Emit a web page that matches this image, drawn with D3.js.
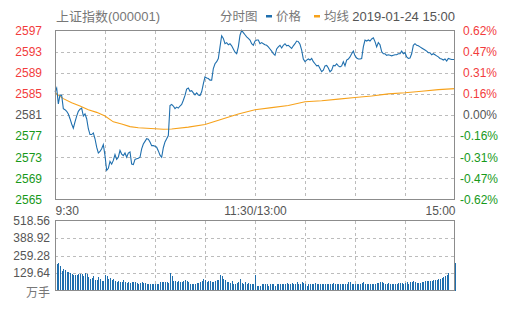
<!DOCTYPE html>
<html>
<head>
<meta charset="utf-8">
<script src="https://cdn.jsdelivr.net/npm/d3@7"></script>
<style>
  body { margin: 0; background: #fff; }
  svg { display: block; font-family: Arial, "Liberation Sans", "Noto Sans CJK SC", sans-serif; }
</style>
</head>
<body>
<svg id="chart"></svg>
<script>
// price ticks (left) and percentage labels (right)
const priceTicks = [2597, 2593, 2589, 2585, 2581, 2577, 2573, 2569, 2565];
const pctLabels = ['0.62%', '0.47%', '0.31%', '0.16%', '0.00%', '-0.16%', '-0.31%', '-0.47%', '-0.62%'];
const preClose = 2581;
const timeTicks = [0, 120, 240];
const timeLabels = ['9:30', '11:30/13:00', '15:00'];
const gridMinutes = [30, 60, 90, 120, 150, 180, 210];
const volTicks = [518.56, 388.92, 259.28, 129.64];
const volLabels = ['518.56', '388.92', '259.28', '129.64'];

// one price per minute, 9:30 .. 11:30 then 13:00 .. 15:00
const prices = [
  2585.4, 2586.1, 2583.1, 2584.8, 2584.7, 2582.2, 2582.0, 2581.7, 2581.2, 2580.3,
  2579.3, 2578.5, 2579.7, 2580.8, 2581.7, 2582.1, 2582.3, 2580.8, 2581.2, 2580.3,
  2578.4, 2577.3, 2577.3, 2577.6, 2576.5, 2574.9, 2573.8, 2574.1, 2574.6, 2575.4,
  2573.3, 2570.5, 2570.9, 2572.2, 2571.7, 2572.4, 2573.5, 2572.6, 2573.0, 2574.3,
  2573.6, 2573.3, 2573.8, 2573.0, 2573.8, 2574.0, 2571.7, 2571.6, 2572.6, 2572.7,
  2572.8, 2573.0, 2574.6, 2575.5, 2576.0, 2576.5, 2576.4, 2575.9, 2575.2, 2575.2,
  2575.1, 2574.9, 2574.2, 2573.4, 2573.0, 2574.8, 2575.9, 2576.5, 2577.1, 2582.8,
  2583.0, 2582.7, 2582.2, 2582.5, 2582.3, 2582.7, 2583.0, 2583.8, 2584.7, 2585.9,
  2586.1, 2585.5, 2585.6, 2585.2, 2584.8, 2585.2, 2584.8, 2584.7, 2585.4, 2586.9,
  2588.2, 2588.0, 2587.9, 2587.6, 2587.6, 2589.8, 2590.7, 2591.1, 2591.7, 2593.9,
  2596.0, 2595.5, 2594.5, 2594.7, 2594.3, 2594.5, 2594.1, 2593.5, 2592.9, 2592.6,
  2593.9, 2596.1, 2597.0, 2596.6, 2596.2, 2595.8, 2595.5, 2595.2, 2594.5, 2594.2,
  2595.0, 2595.2, 2595.2, 2594.5, 2594.7, 2594.5, 2594.3, 2594.2, 2593.9, 2593.5,
  2593.1, 2592.6, 2592.3, 2593.5, 2593.9, 2594.2, 2593.7, 2594.2, 2594.5, 2594.1,
  2594.2, 2593.9, 2593.6, 2594.1, 2594.5, 2595.0, 2594.9, 2594.4, 2593.3, 2591.6,
  2591.1, 2591.4, 2591.6, 2591.4, 2591.7, 2591.1, 2590.7, 2590.3, 2590.4, 2589.8,
  2589.2, 2589.5, 2590.3, 2590.4, 2589.9, 2589.2, 2589.5, 2590.4, 2590.3, 2590.7,
  2590.3, 2590.1, 2590.3, 2591.1, 2590.3, 2591.4, 2591.6, 2592.0, 2592.6, 2593.1,
  2592.2, 2591.8, 2591.6, 2591.6, 2591.7, 2593.9, 2595.2, 2595.0, 2595.2, 2595.0,
  2595.4, 2595.6, 2594.9, 2593.9, 2594.7, 2594.3, 2593.0, 2592.6, 2592.6, 2592.3,
  2592.4, 2592.3, 2592.2, 2592.3, 2592.4, 2592.4, 2592.6, 2592.6, 2593.1, 2592.6,
  2592.8, 2592.0, 2591.7, 2591.8, 2592.6, 2594.2, 2594.5, 2594.2, 2594.1, 2593.9,
  2593.7, 2593.5, 2593.3, 2593.1, 2592.8, 2592.8, 2592.4, 2592.6, 2592.4, 2592.2,
  2592.0, 2591.7, 2591.6, 2591.4, 2591.6, 2591.2, 2591.7, 2591.6, 2591.5, 2591.5,
  2591.5
];

// average price line, read every 5-10 minutes
const avgMinutes = [0, 5, 10, 15, 20, 25, 30, 35, 40, 45, 50, 55, 60, 65, 70, 80, 90, 100, 110, 120,
  130, 140, 150, 160, 170, 180, 190, 200, 210, 220, 230, 240];
const avgPrices = [2585.2, 2584.1, 2583.3, 2582.7, 2582.0, 2581.5, 2580.8, 2579.7, 2579.3, 2578.8,
  2578.6, 2578.5, 2578.4, 2578.3, 2578.35, 2578.7, 2579.2, 2580.2, 2581.2, 2582.0,
  2582.4, 2582.8, 2583.5, 2583.7, 2584.0, 2584.3, 2584.6, 2585.0, 2585.2, 2585.5, 2585.8, 2586.0];

// volume per minute (万手)
const volumes = [
  518.56, 199, 204, 179, 144, 162, 150, 137, 137, 129,
  125, 112, 112, 112, 120, 120, 120, 105, 129, 120,
  100, 87, 95, 105, 75, 80, 100, 85, 70, 70,
  112, 105, 87, 95, 75, 85, 70, 62, 70, 65,
  62, 75, 62, 55, 62, 55, 60, 60, 60, 55,
  50, 55, 60, 55, 55, 50, 50, 50, 45, 50,
  45, 50, 45, 60, 60, 60, 60, 60, 55, 129,
  105, 67, 70, 62, 70, 62, 62, 70, 75, 70,
  62, 50, 50, 50, 50, 55, 55, 62, 70, 87,
  75, 62, 70, 70, 62, 62, 70, 75, 75, 112,
  105, 87, 75, 62, 62, 55, 70, 50, 45, 55,
  62, 87, 55, 50, 62, 50, 55, 50, 45, 45,
  112, 37, 37, 37, 45, 45, 45, 45, 37, 45,
  50, 45, 37, 45, 45, 45, 50, 50, 50, 55,
  50, 50, 55, 45, 50, 65, 50, 45, 62, 55,
  45, 37, 45, 45, 50, 50, 55, 50, 50, 50,
  50, 50, 45, 45, 50, 50, 50, 55, 50, 50,
  50, 50, 50, 45, 45, 50, 60, 60, 50, 50,
  45, 50, 50, 50, 55, 62, 50, 50, 45, 50,
  50, 50, 50, 55, 55, 60, 65, 55, 50, 50,
  55, 50, 50, 50, 50, 50, 55, 55, 55, 50,
  55, 62, 50, 60, 62, 67, 62, 55, 55, 55,
  60, 60, 67, 67, 67, 70, 72, 75, 75, 80,
  85, 87, 95, 100, 110, 118, 128, 4, 0, 0,
  205
];

const width = 505, height = 310;
const svg = d3.select('#chart').attr('width', width).attr('height', height);

const left = 55, right = 455;
const x = d3.scaleLinear().domain([0, 240]).range([left, right]);
const y = d3.scaleLinear().domain([2565, 2597]).range([199.5, 30.5]);
const yVol = d3.scaleLinear().domain([0, 518.56]).range([290.5, 220.5]);

const red = '#f23c3c', green = '#17991a', grey = '#555';
const gridColor = '#bcbcbc', frameColor = '#8c8c8c';
const tickColor = v => v > preClose ? red : (v < preClose ? green : grey);

// dashed grid drawn as small 1px dashes (3px on, 3px off)
function drawGrid(g, hValues, yScale, top, bottom) {
  const dashes = [];
  hValues.forEach(v => {
    const yy = Math.round(yScale(v));
    d3.range(left, right, 6).forEach(xx => dashes.push({ x: xx, y: yy, w: Math.min(3, right - xx), h: 1 }));
  });
  gridMinutes.forEach(m => {
    const xx = Math.round(x(m));
    d3.range(Math.ceil(top), bottom, 6).forEach(yy => dashes.push({ x: xx, y: yy, w: 1, h: Math.min(3, bottom - yy) }));
  });
  g.selectAll('rect').data(dashes).join('rect')
    .attr('x', d => d.x).attr('y', d => d.y)
    .attr('width', d => d.w).attr('height', d => d.h)
    .attr('fill', gridColor)
    .attr('shape-rendering', 'crispEdges');
}

// title and legend
svg.append('text').attr('x', 56).attr('y', 21).attr('font-size', 13).attr('fill', '#777')
  .text('上证指数(000001)');
svg.append('text').attr('x', 220).attr('y', 21).attr('font-size', 12.5).attr('fill', '#777')
  .text('分时图');
svg.append('rect').attr('x', 266).attr('y', 15).attr('width', 6).attr('height', 2.5).attr('fill', '#1f6fae');
svg.append('text').attr('x', 276).attr('y', 21).attr('font-size', 12.5).attr('fill', '#777').text('价格');
svg.append('rect').attr('x', 314).attr('y', 15).attr('width', 6).attr('height', 2.5).attr('fill', '#f7a21b');
svg.append('text').attr('x', 324).attr('y', 21).attr('font-size', 12.5).attr('fill', '#777').text('均线');
svg.append('text').attr('x', 455).attr('y', 21).attr('font-size', 13).attr('fill', '#555')
  .attr('text-anchor', 'end').text('2019-01-24 15:00');

// price panel
drawGrid(svg.append('g'), priceTicks.slice(1, -1), y, 30.5, 199.5);

const yAxisG = svg.append('g').attr('transform', `translate(${left},0)`)
  .call(d3.axisLeft(y).tickValues(priceTicks).tickSize(0).tickPadding(13)
    .tickFormat(d3.format('d')));
yAxisG.select('.domain').remove();
yAxisG.selectAll('text').attr('font-size', 12).attr('font-family', null)
  .attr('fill', d => tickColor(d));

const yRightG = svg.append('g').attr('transform', `translate(${right},0)`)
  .call(d3.axisRight(y).tickValues(priceTicks).tickSize(0).tickPadding(8)
    .tickFormat((d, i) => pctLabels[i]));
yRightG.select('.domain').remove();
yRightG.selectAll('text').attr('font-size', 12).attr('font-family', null)
  .attr('fill', d => tickColor(d))
  .attr('x', d => d < preClose ? 5 : 8);

// time labels
const xAxisG = svg.append('g').attr('transform', 'translate(0,199.5)')
  .call(d3.axisBottom(x).tickValues(timeTicks).tickSize(0).tickPadding(7)
    .tickFormat((d, i) => timeLabels[i]));
xAxisG.select('.domain').remove();
xAxisG.selectAll('text').attr('font-size', 12).attr('font-family', null).attr('fill', grey)
  .attr('text-anchor', (d, i) => i === 0 ? 'start' : (i === 2 ? 'end' : 'middle'));

// average line and price line
svg.append('path').datum(avgPrices)
  .attr('fill', 'none').attr('stroke', '#f7a21b').attr('stroke-width', 1.1)
  .attr('d', d3.line().x((d, i) => x(avgMinutes[i])).y(d => y(d)));

svg.append('path').datum(prices)
  .attr('fill', 'none').attr('stroke', '#1f6fae').attr('stroke-width', 1.1)
  .attr('d', d3.line().x((d, i) => x(i)).y(d => y(d)));

svg.append('rect')
  .attr('x', left + 0.5).attr('y', 30.5).attr('width', right - left - 1).attr('height', 169)
  .attr('fill', 'none').attr('stroke', frameColor).attr('shape-rendering', 'crispEdges');

// volume panel
drawGrid(svg.append('g'), volTicks.slice(1), yVol, 220.5, 290.5);

svg.append('g').selectAll('rect').data(volumes).join('rect')
  .attr('x', (d, i) => Math.round(x(i)) - 0.5)
  .attr('width', 1.1)
  .attr('y', d => yVol(d))
  .attr('height', d => yVol(0) - yVol(d))
  .attr('fill', '#1f6fae')
  .attr('shape-rendering', 'crispEdges');

svg.append('rect')
  .attr('x', left + 0.5).attr('y', 220.5).attr('width', right - left - 1).attr('height', 70)
  .attr('fill', 'none').attr('stroke', frameColor).attr('shape-rendering', 'crispEdges');

svg.append('g').selectAll('text').data(volTicks).join('text')
  .attr('x', 50).attr('y', d => yVol(d)).attr('dy', '0.35em')
  .attr('text-anchor', 'end').attr('font-size', 12).attr('fill', grey)
  .text((d, i) => volLabels[i]);
svg.append('text').attr('x', 50).attr('y', 297).attr('text-anchor', 'end')
  .attr('font-size', 12).attr('fill', '#777').text('万手');
</script>
</body>
</html>
